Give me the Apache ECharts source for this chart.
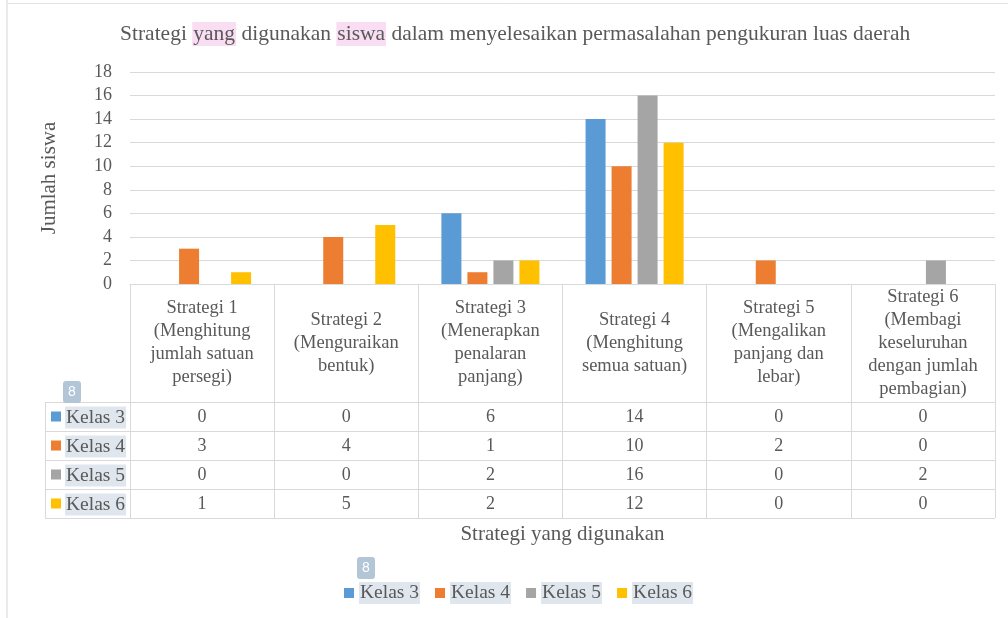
<!DOCTYPE html>
<html>
<head>
<meta charset="utf-8">
<script src="https://cdn.jsdelivr.net/npm/echarts@6/dist/echarts.min.js"></script>
<style>
    html, body { margin: 0; padding: 0; background: #fff; }
    #main { width: 1008px; height: 618px; }
</style>
</head>
<body>
<div id="main"></div>
<script>
    var categories = [
        'Strategi 1\n(Menghitung\njumlah satuan\npersegi)',
        'Strategi 2\n(Menguraikan\nbentuk)',
        'Strategi 3\n(Menerapkan\npenalaran\npanjang)',
        'Strategi 4\n(Menghitung\nsemua satuan)',
        'Strategi 5\n(Mengalikan\npanjang dan\nlebar)',
        'Strategi 6\n(Membagi\nkeseluruhan\ndengan jumlah\npembagian)'
    ];
    var seriesNames = ['Kelas 3', 'Kelas 4', 'Kelas 5', 'Kelas 6'];
    var kelas3 = [0, 0, 6, 14, 0, 0];
    var kelas4 = [3, 4, 1, 10, 2, 0];
    var kelas5 = [0, 0, 2, 16, 0, 2];
    var kelas6 = [1, 5, 2, 12, 0, 0];
    var yMax = 18;
    var yStep = 2;

    var allData = [kelas3, kelas4, kelas5, kelas6];
    var colors = ['#5b9bd5', '#ed7d31', '#a5a5a5', '#ffc000'];
    var font = 'Liberation Serif';
    var txt = '#595959';
    var line = '#d9d9d9';

    // posisi tabel data (piksel)
    var gridLeft = 130, gridRight = 13, axisY = 284;
    var rowTop = 402, rowH = 29, keyLeft = 45;

    var myChart = echarts.init(document.getElementById('main'));

    var series = [];
    for (var i = 0; i < seriesNames.length; i++) {
        series.push({
            name: seriesNames[i],
            type: 'bar',
            data: allData[i],
            itemStyle: {color: colors[i]},
            barGap: '30%',
            barCategoryGap: '32%'
        });
    }

    option = {
        animation: false,
        color: colors,
        title: {
            text: 'Strategi {h|yang} digunakan {h|siswa} dalam menyelesaikan permasalahan pengukuran luas daerah',
            left: 115,
            top: 17,
            textStyle: {
                fontFamily: font,
                fontSize: 21.5,
                fontWeight: 'normal',
                color: txt,
                rich: {
                    h: {fontFamily: font, fontSize: 21.5, color: txt, backgroundColor: '#f9ddf3', padding: [1, 1]}
                }
            }
        },
        legend: {
            data: seriesNames,
            left: 339,
            top: 577,
            itemWidth: 10,
            itemHeight: 10,
            itemGap: 15,
            icon: 'rect',
            textStyle: {
                fontFamily: font, fontSize: 19.5, color: txt,
                backgroundColor: '#dfe6ee', padding: [2, 1, 0, 1]
            }
        },
        grid: {left: gridLeft, right: gridRight, top: 72, bottom: 618 - axisY},
        xAxis: {
            type: 'category',
            data: categories,
            name: 'Strategi yang digunakan',
            nameLocation: 'middle',
            nameGap: 240,
            nameTextStyle: {fontFamily: font, fontSize: 21, color: txt},
            axisLine: {lineStyle: {color: line}},
            axisTick: {show: true, length: 518 - axisY, lineStyle: {color: line}},
            axisLabel: {
                interval: 0,
                margin: 59,
                verticalAlign: 'middle',
                fontFamily: font, fontSize: 18.5, lineHeight: 23, color: txt
            }
        },
        yAxis: {
            type: 'value',
            min: 0,
            max: yMax,
            interval: yStep,
            name: 'Jumlah siswa',
            nameLocation: 'middle',
            nameGap: 70,
            nameTextStyle: {fontFamily: font, fontSize: 21, color: txt},
            axisLine: {show: false},
            axisTick: {show: false},
            axisLabel: {margin: 18, fontFamily: font, fontSize: 18, color: txt},
            splitLine: {lineStyle: {color: line}}
        },
        series: series
    };
    myChart.setOption(option);

    // tabel data di bawah sumbu
    var g = [];
    var rightX = 1008 - gridRight;
    g.push({type: 'line', shape: {x1: 7, y1: 0, x2: 7, y2: 618}, style: {stroke: '#e3e3e3', lineWidth: 1.5}});
    g.push({type: 'line', shape: {x1: 7, y1: 3.5, x2: 1008, y2: 3.5}, style: {stroke: '#e3e3e3', lineWidth: 1}});
    for (var r = 0; r <= seriesNames.length; r++) {
        var yy = rowTop + r * rowH + 0.5;
        g.push({type: 'line', shape: {x1: keyLeft, y1: yy, x2: rightX, y2: yy}, style: {stroke: line, lineWidth: 1}});
    }
    g.push({type: 'line', shape: {x1: keyLeft + 0.5, y1: rowTop, x2: keyLeft + 0.5, y2: rowTop + rowH * 4}, style: {stroke: line, lineWidth: 1}});
    for (var s = 0; s < seriesNames.length; s++) {
        var cy = rowTop + s * rowH + rowH / 2;
        g.push({type: 'rect', shape: {x: 51, y: cy - 5, width: 10, height: 10}, style: {fill: colors[s]}});
        g.push({type: 'text', x: 65, y: cy + 1, style: {
            text: seriesNames[s], fontFamily: font, fontSize: 19.5, fill: txt,
            verticalAlign: 'middle', backgroundColor: '#dfe6ee', padding: [2, 1, 0, 1]
        }});
        for (var c = 0; c < categories.length; c++) {
            var px = myChart.convertToPixel({xAxisIndex: 0}, c);
            g.push({type: 'text', x: px, y: cy + 1, style: {
                text: String(allData[s][c]), fontFamily: font, fontSize: 18, fill: txt,
                align: 'center', verticalAlign: 'middle'
            }});
        }
    }
    // penanda "8"
    var badges = [[63, 381], [357, 557]];
    for (var b = 0; b < badges.length; b++) {
        g.push({type: 'rect', shape: {x: badges[b][0], y: badges[b][1], width: 18, height: 22, r: 3}, style: {fill: '#b3c6d8'}});
        g.push({type: 'text', x: badges[b][0] + 9, y: badges[b][1] + 11, style: {
            text: '8', fontFamily: 'Liberation Sans', fontSize: 14, fill: '#fff', align: 'center', verticalAlign: 'middle'
        }});
    }
    myChart.setOption({graphic: g});
</script>
</body>
</html>
